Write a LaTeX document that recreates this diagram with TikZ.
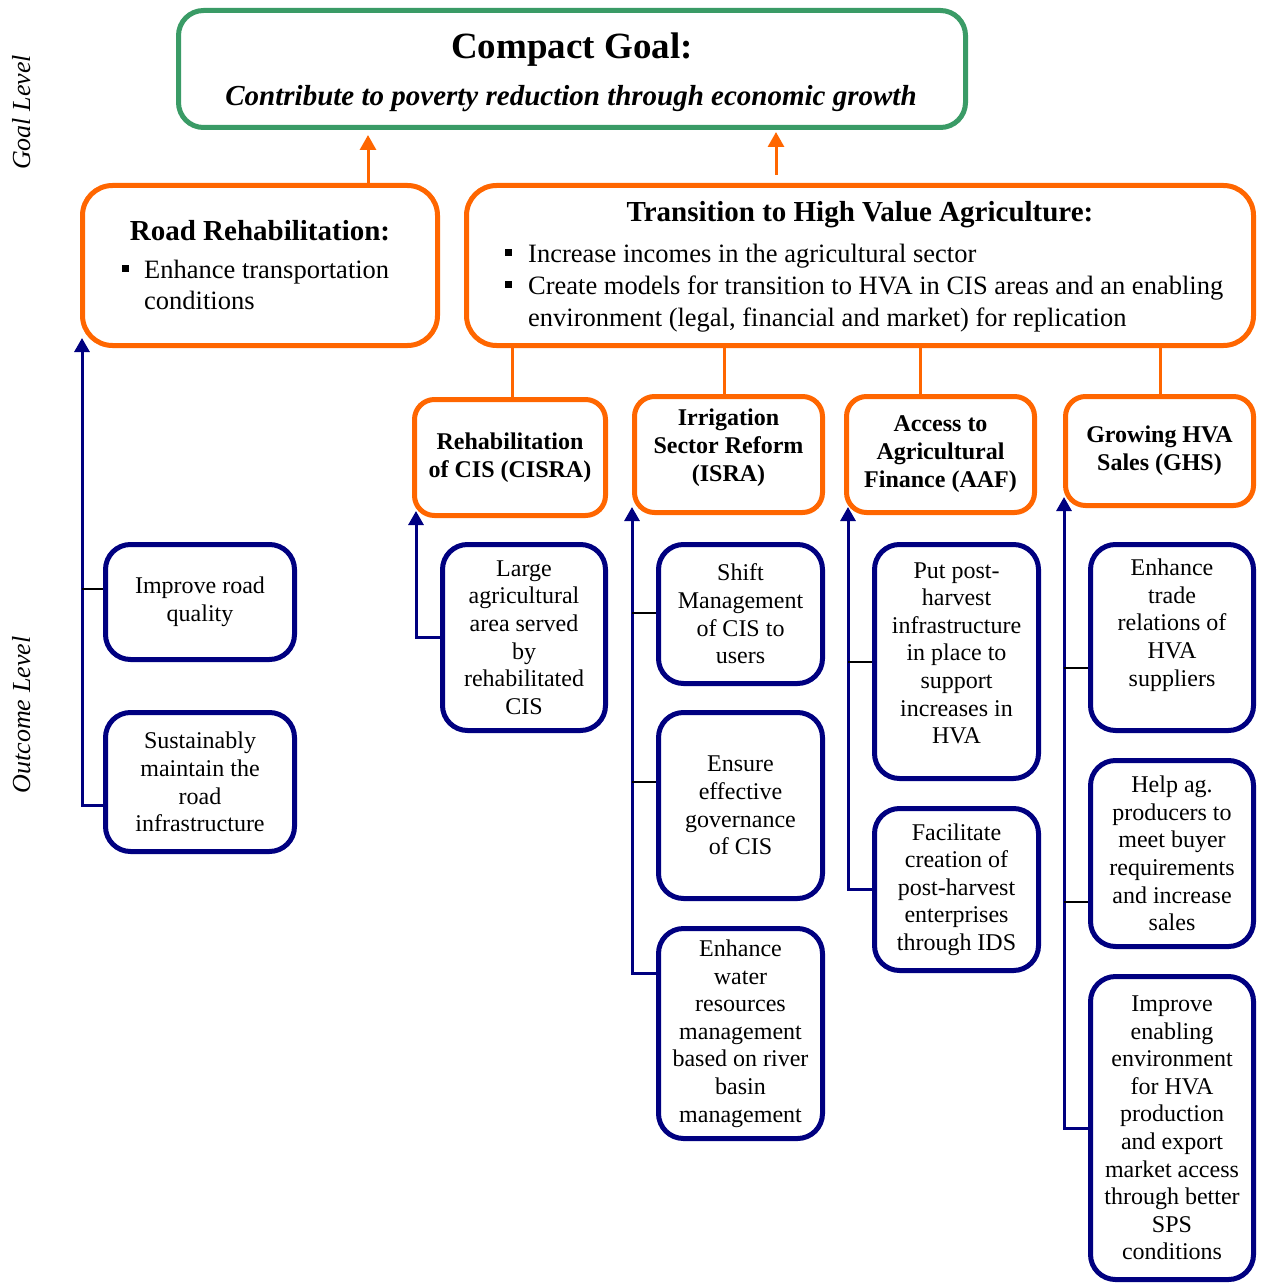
\documentclass[tikz,border=0pt]{standalone}
\usepackage{fontspec}
\setmainfont{Liberation Serif}
\usetikzlibrary{arrows.meta}
\definecolor{orangeC}{RGB}{255,102,0}
\definecolor{greenC}{RGB}{58,155,102}
\definecolor{navyC}{RGB}{0,0,128}
\newcommand{\sqbullet}{\rule[6pt]{7pt}{7pt}}
\begin{document}
\begin{tikzpicture}[x=1pt,y=-1pt,
  gbox/.style={draw=greenC, line width=5pt, rounded corners=25pt, inner sep=0pt},
  bigobox/.style={draw=orangeC, line width=5pt, rounded corners=30pt, inner sep=0pt},
  obox/.style={draw=orangeC, line width=5pt, rounded corners=20pt, inner sep=0pt, align=center, font=\fontsize{24}{28}\selectfont\bfseries, execute at begin node={\rule{0pt}{22pt}}},
  bbox/.style={draw=navyC, line width=5pt, rounded corners=25pt, inner sep=0pt, align=center, font=\fontsize{24}{27.6}\selectfont, execute at begin node={\rule{0pt}{22pt}}},
  oconn/.style={draw=orangeC, line width=3pt},
  oarrow/.style={oconn, -{Triangle[width=16pt,length=15pt]}},
  bconn/.style={draw=navyC, line width=3pt, {Triangle[width=15pt,length=14pt]}-},
  tickline/.style={draw=black, line width=2pt},
  lvl/.style={rotate=90, anchor=base, font=\fontsize{26}{30}\selectfont\itshape}
]
\useasboundingbox (0,0) rectangle (1262,1284);

% side labels
\node[lvl] (goallvl) at (30,112.5) {Goal Level};
\node[lvl] (outlvl) at (30,715) {Outcome Level};

% goal box
\node[gbox, minimum width=787pt, minimum height=117pt] (goal) at (572,69) {};
\node[anchor=base, font=\fontsize{37}{44}\selectfont\bfseries] (goalT) at (572,59) {Compact Goal:};
\node[anchor=base, font=\fontsize{29}{34}\selectfont\bfseries\itshape] (goalS) at (571,106) {Contribute to poverty reduction through economic growth};

% road box
\node[bigobox, minimum width=355pt, minimum height=160pt] (road) at (260,265.5) {};
\node[anchor=base, font=\fontsize{29}{34}\selectfont\bfseries] (roadT) at (260,240) {Road Rehabilitation:};
\node[anchor=base west, inner sep=0pt, font=\fontsize{26.5}{31.5}\selectfont] (roadB) at (122,278)
  {\begin{tabular}[t]{@{}p{7pt}@{\hspace{15pt}}l@{}}\sqbullet & Enhance transportation\\ & conditions\end{tabular}};

% HVA box
\node[bigobox, minimum width=787pt, minimum height=160pt] (hva) at (860,265.5) {};
\node[anchor=base, font=\fontsize{29}{34}\selectfont\bfseries] (hvaT) at (860,222) {Transition to High Value Agriculture:};
\node[anchor=base west, inner sep=0pt, font=\fontsize{26.5}{32}\selectfont] (hvaB) at (505,262)
  {\begin{tabular}[t]{@{}p{7pt}@{\hspace{16pt}}l@{}}\sqbullet & Increase incomes in the agricultural sector\\
   \sqbullet & Create models for transition to HVA in CIS areas and an enabling\\
   & environment (legal, financial and market) for replication\end{tabular}};

% orange arrows to goal
\coordinate (ra) at (368,0);
\coordinate (ha) at (776,0);
\draw[oarrow, shorten >=5pt] (road.north -| ra) -- (goal.south -| ra);
\draw[oarrow, shorten >=2pt, shorten <=8pt] (hva.north -| ha) -- (goal.south -| ha);

% component boxes
\node[obox, minimum width=191pt, minimum height=116pt] (cisra) at (510,457.5) {Rehabilitation\\of CIS (CISRA)};
\node[obox, minimum width=188pt, minimum height=116pt] (isra) at (728.5,454.5) {Irrigation\\Sector Reform\\(ISRA)\\[-10pt]\mbox{}};
\node[obox, minimum width=188pt, minimum height=116pt] (aaf) at (940.5,454.5) {Access to\\Agricultural\\Finance (AAF)};
\node[obox, minimum width=188pt, minimum height=109pt] (ghs) at (1159.5,451) {Growing HVA\\Sales (GHS)};

% orange connectors
\coordinate (c1) at (512,0);
\coordinate (c2) at (724,0);
\coordinate (c3) at (920,0);
\coordinate (c4) at (1160,0);
\draw[oconn] (hva.south -| c1) -- (cisra.north -| c1);
\draw[oconn] (hva.south -| c2) -- (isra.north -| c2);
\draw[oconn] (hva.south -| c3) -- (aaf.north -| c3);
\draw[oconn] (hva.south -| c4) -- (ghs.north -| c4);

% outcome boxes
\node[bbox, minimum width=189pt, minimum height=115pt] (imp) at (200,602) {Improve road\\quality};
\node[bbox, minimum width=189pt, minimum height=139pt] (sust) at (200,782) {Sustainably\\maintain the\\road\\infrastructure};
\node[bbox, minimum width=163pt, minimum height=186pt] (large) at (524,637.5) {Large\\agricultural\\area served\\by\\rehabilitated\\CIS};
\node[bbox, minimum width=164pt, minimum height=139pt] (shift) at (740.5,614) {Shift\\Management\\of CIS to\\users};
\node[bbox, minimum width=164pt, minimum height=186pt] (ensure) at (740.5,805.5) {Ensure\\effective\\governance\\of CIS};
\node[bbox, minimum width=164pt, minimum height=210pt] (ewater) at (740.5,1033.5) {Enhance\\water\\resources\\management\\based on river\\basin\\management};
\node[bbox, minimum width=164pt, minimum height=234pt] (putpost) at (956.5,661.5) {Put post-\\harvest\\infrastructure\\in place to\\support\\increases in\\HVA\\[-10.6pt]\mbox{}};
\node[bbox, minimum width=164pt, minimum height=162pt] (facil) at (956.5,889.5) {Facilitate\\creation of\\post-harvest\\enterprises\\through IDS};
\node[bbox, minimum width=163pt, minimum height=186pt] (etrade) at (1172,637.5) {Enhance\\trade\\relations of\\HVA\\suppliers\\[2.4pt]\mbox{}};
\node[bbox, minimum width=163pt, minimum height=186pt] (helpag) at (1172,853.5) {Help ag.\\producers to\\meet buyer\\requirements\\and increase\\sales};
\node[bbox, minimum width=163pt, minimum height=303pt] (improve) at (1172,1128) {Improve\\enabling\\environment\\for HVA\\production\\and export\\market access\\through better\\SPS\\conditions};

% blue connectors
\coordinate (tipR) at (82,338);
\coordinate (tipC) at (416,511);
\coordinate (tipI) at (632,507);
\coordinate (tipA) at (848,507);
\coordinate (tipG) at (1064,497);
\draw[bconn] (tipR) |- ([yshift=-23pt]sust.west);
\draw[bconn] (tipC) |- (large.west);
\draw[bconn] (tipI) |- ([yshift=60.5pt]ewater.west);
\draw[bconn] (tipA) |- (facil.west);
\draw[bconn] (tipG) |- (improve.west);

% ticks
\coordinate (k1) at ([yshift=13pt]imp.west);
\coordinate (k2) at ([yshift=1pt]shift.west);
\coordinate (k3) at ([yshift=23.5pt]ensure.west);
\coordinate (k4) at (putpost.west);
\coordinate (k5) at ([yshift=-30.5pt]etrade.west);
\coordinate (k6) at ([yshift=-48.5pt]helpag.west);
\draw[tickline] (tipR |- k1) -- (k1);
\draw[tickline] (tipI |- k2) -- (k2);
\draw[tickline] (tipI |- k3) -- (k3);
\draw[tickline] (tipA |- k4) -- (k4);
\draw[tickline] (tipG |- k5) -- (k5);
\draw[tickline] (tipG |- k6) -- (k6);
\end{tikzpicture}
\end{document}
